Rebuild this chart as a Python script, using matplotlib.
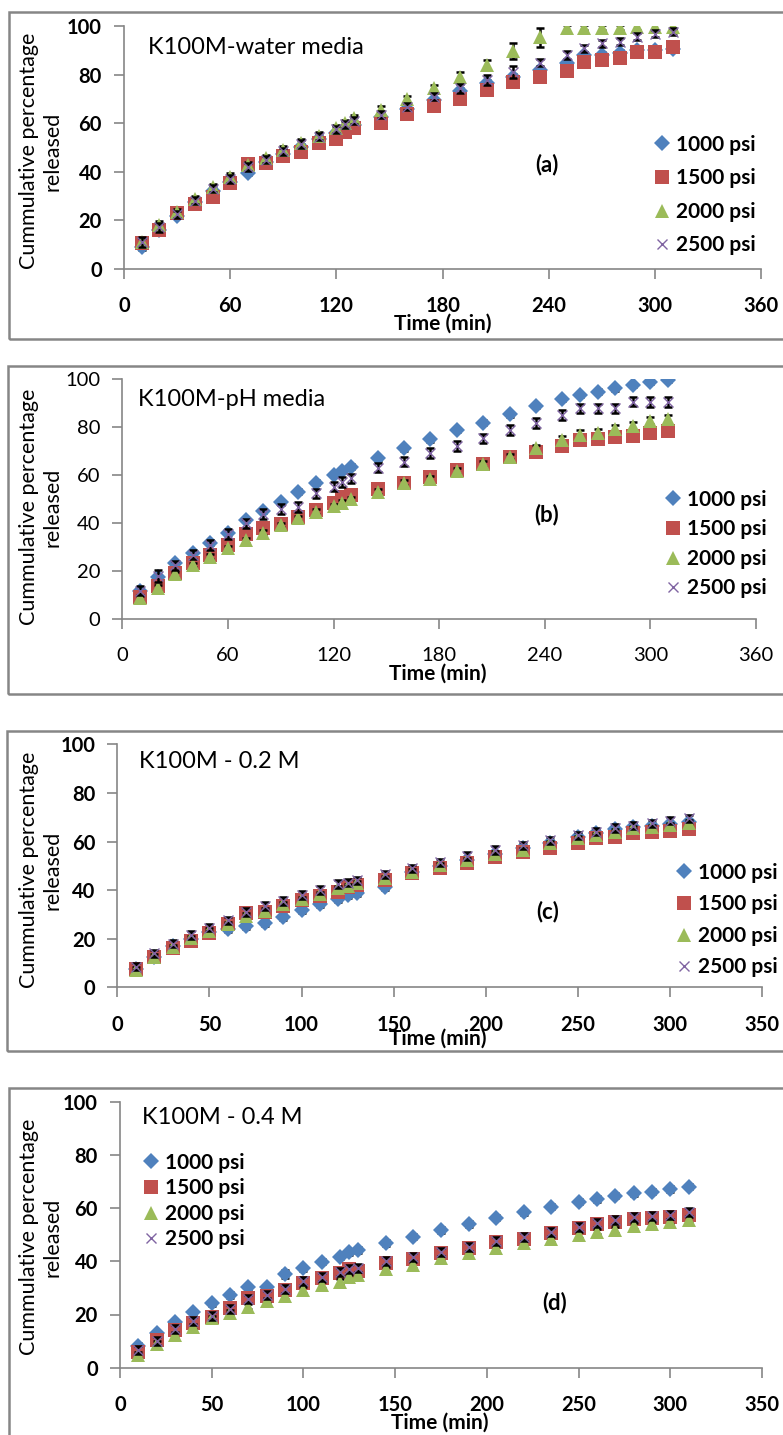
import matplotlib
matplotlib.use('Agg')
import matplotlib.pyplot as plt
from matplotlib.lines import Line2D
from matplotlib.patches import Rectangle

plt.rcParams['font.family'] = ['Lato', 'DejaVu Sans']

# sampling times (min), same for every panel
t = [10, 20, 30, 40, 50, 60, 70, 80, 90, 100, 110, 120, 125, 130, 145, 160,
     175, 190, 205, 220, 235, 250, 260, 270, 280, 290, 300, 310]

labels = ['1000 psi', '1500 psi', '2000 psi', '2500 psi']

# (a) water media
a_1000 = [8.8, 16.0, 21.9, 27.5, 32.1, 35.6, 39.6, 43.9, 47.3, 50.3, 53.4, 56.1, 57.2, 59.2, 62.5, 65.8,
          69.6, 73.3, 76.7, 79.2, 82.0, 84.7, 88.2, 88.2, 88.9, 90.2, 90.2, 90.6]
a_1500 = [10.5, 16.0, 22.8, 26.6, 29.7, 35.5, 43.2, 43.7, 46.5, 48.3, 51.7, 53.5, 56.5, 57.9, 60.2, 63.7,
          67.1, 70.0, 73.7, 77.1, 79.2, 81.6, 85.4, 86.1, 87.1, 89.5, 89.5, 91.3]
a_2000 = [11.0, 18.0, 23.3, 28.6, 33.6, 38.0, 42.8, 45.5, 49.0, 52.0, 54.7, 57.9, 60.0, 62.0, 65.5, 69.9,
          74.4, 79.2, 84.0, 89.9, 95.5, 99.2, 99.5, 99.5, 99.5, 99.6, 99.6, 99.6]
a_2500 = [11.0, 17.0, 22.5, 28.0, 33.0, 37.0, 42.0, 45.0, 48.5, 51.5, 54.5, 57.5, 59.5, 61.0, 63.5, 66.8,
          71.0, 74.4, 77.8, 81.3, 85.0, 88.2, 90.9, 93.0, 93.7, 95.7, 96.9, 97.8]
a_err_1000 = [1.0, 1.2, 1.0, 1.2, 1.0, 1.3, 1.0, 1.2, 1.0, 1.0, 1.2, 1.0, 1.2, 1.0, 1.2, 1.0,
              1.0, 1.2, 1.0, 1.2, 1.0, 1.5, 1.2, 1.0, 1.2, 1.0, 1.0, 1.2]
a_err_1500 = [1.5, 1.2, 1.5, 1.2, 1.5, 1.3, 1.2, 1.2, 1.2, 1.0, 1.5, 1.2, 1.2, 1.2, 1.5, 1.2,
              1.2, 1.2, 1.2, 1.5, 1.2, 1.2, 2.0, 1.5, 1.5, 1.2, 1.2, 1.2]
a_err_2000 = [1.5, 1.5, 1.2, 1.5, 1.2, 1.5, 1.2, 1.5, 1.5, 1.5, 1.5, 1.5, 1.5, 1.5, 1.5, 1.5,
              1.5, 2.0, 2.0, 3.3, 4.0, 1.5, 1.2, 1.2, 1.2, 1.2, 1.2, 1.2]
a_err_2500 = [2.0, 2.0, 1.5, 1.5, 1.5, 1.5, 1.5, 1.5, 1.5, 1.5, 1.5, 1.5, 1.5, 1.5, 1.5, 1.5,
              1.5, 2.0, 2.0, 2.5, 1.5, 1.5, 1.5, 1.5, 1.5, 1.5, 1.5, 1.5]

# (b) pH media
b_1000 = [11.9, 17.5, 23.3, 27.5, 31.9, 36.1, 41.4, 45.1, 48.7, 53.2, 56.9, 60.1, 61.9, 63.6, 67.1, 71.2,
          75.0, 78.9, 81.9, 85.4, 88.9, 91.8, 93.5, 94.8, 96.2, 97.6, 99.0, 99.7]
b_1500 = [9.2, 14.0, 19.2, 23.3, 26.8, 31.0, 35.5, 37.9, 39.6, 42.5, 45.5, 48.3, 51.1, 51.8, 54.2, 56.7,
          59.2, 62.2, 64.7, 67.5, 69.8, 72.2, 74.7, 75.1, 76.1, 76.4, 77.8, 78.6]
b_2000 = [8.7, 12.9, 18.7, 22.6, 26.1, 29.6, 33.0, 36.1, 39.3, 42.1, 44.8, 47.2, 48.6, 50.0, 53.2, 56.9,
          58.3, 61.9, 64.7, 67.8, 71.2, 74.7, 76.8, 77.5, 79.2, 80.5, 82.8, 83.5]
b_2500 = [12.0, 18.0, 22.5, 27.0, 31.0, 35.5, 40.0, 44.0, 46.0, 46.9, 52.5, 55.3, 57.3, 58.7, 63.2, 65.7,
          69.2, 72.2, 75.4, 78.9, 81.9, 85.1, 87.9, 87.9, 87.9, 90.7, 90.6, 90.6]
b_err_1000 = [1.0, 1.0, 1.0, 1.0, 1.0, 1.0, 1.0, 1.0, 1.0, 1.0, 1.0, 1.0, 1.0, 1.0, 1.0, 1.0,
              1.0, 1.0, 1.0, 1.0, 1.0, 1.0, 1.0, 1.0, 1.0, 1.0, 1.0, 1.0]
b_err_1500 = [1.2, 1.5, 1.2, 1.2, 1.2, 1.2, 1.2, 1.0, 1.0, 1.0, 1.0, 1.2, 1.0, 1.0, 1.0, 1.0,
              1.2, 1.0, 1.0, 1.0, 1.0, 1.2, 1.5, 1.5, 1.5, 1.2, 1.2, 1.2]
b_err_2000 = [1.2, 1.2, 1.2, 1.0, 1.0, 1.0, 1.0, 1.0, 1.0, 1.0, 1.0, 1.0, 1.0, 1.0, 1.0, 1.0,
              1.5, 1.2, 1.2, 1.2, 1.5, 1.5, 2.0, 1.8, 1.8, 1.8, 1.5, 1.8]
b_err_2500 = [2.0, 2.5, 2.0, 2.0, 2.0, 2.0, 2.0, 2.0, 2.0, 2.0, 2.0, 2.0, 2.0, 2.0, 2.0, 2.0,
              2.0, 2.0, 2.0, 2.0, 2.0, 2.0, 2.0, 2.0, 2.0, 2.0, 2.0, 2.0]

# (c) 0.2 M
c_1000 = [7.4, 12.6, 17.0, 19.8, 22.9, 23.9, 25.2, 26.6, 29.1, 31.8, 34.3, 36.3, 38.0, 38.9, 41.4, 47.5,
          50.0, 52.5, 55.0, 57.5, 59.5, 62.0, 63.5, 65.0, 66.0, 66.5, 67.0, 68.0]
c_1500 = [7.4, 12.6, 16.0, 19.2, 22.2, 26.0, 30.4, 31.1, 33.5, 35.9, 37.6, 39.3, 41.4, 42.1, 44.2, 46.9,
          49.0, 51.0, 53.5, 55.8, 57.2, 59.3, 61.3, 62.0, 63.4, 64.1, 64.3, 65.0]
c_2000 = [7.3, 12.5, 16.5, 20.2, 23.3, 26.0, 29.5, 31.5, 34.3, 36.2, 38.3, 40.7, 41.7, 42.8, 44.9, 47.6,
          50.3, 52.4, 54.9, 56.5, 59.3, 61.3, 62.7, 64.1, 65.4, 65.8, 66.8, 67.7]
c_2500 = [8.5, 14.0, 18.0, 21.5, 24.5, 27.5, 31.0, 33.5, 35.5, 38.0, 40.0, 42.5, 43.0, 44.0, 46.5, 49.0,
          51.5, 54.0, 56.5, 58.5, 60.5, 62.5, 64.0, 65.5, 66.5, 67.5, 68.5, 69.5]
c_err_1000 = [1.0, 1.0, 1.2, 1.0, 1.0, 1.2, 1.2, 1.2, 1.2, 1.2, 1.2, 1.2, 1.2, 1.2, 1.2, 1.0,
              1.0, 1.0, 1.0, 1.0, 1.0, 1.0, 1.0, 1.0, 1.0, 1.0, 1.0, 1.0]
c_err_1500 = [1.2, 1.2, 1.5, 1.2, 1.2, 1.5, 1.5, 1.5, 1.5, 1.5, 1.5, 1.5, 1.5, 1.5, 1.5, 1.5,
              1.5, 1.5, 1.5, 1.2, 1.2, 1.2, 1.2, 1.5, 1.5, 1.5, 1.5, 1.5]
c_err_2000 = [1.0, 1.0, 1.0, 1.0, 1.0, 1.0, 1.0, 1.0, 1.0, 1.0, 1.0, 1.0, 1.0, 1.0, 1.0, 1.0,
              1.0, 1.0, 1.0, 1.0, 1.0, 1.0, 1.0, 1.0, 1.0, 1.0, 1.0, 1.0]
c_err_2500 = [1.5, 1.5, 1.5, 1.5, 1.5, 1.5, 1.5, 1.5, 1.5, 1.5, 1.5, 1.5, 1.5, 1.5, 1.5, 1.5,
              1.5, 1.5, 1.5, 1.5, 1.5, 1.5, 1.5, 1.5, 1.5, 1.5, 1.5, 1.5]

# (d) 0.4 M
d_1000 = [8.2, 12.9, 17.1, 20.8, 24.2, 27.3, 30.2, 30.2, 35.2, 37.4, 39.8, 41.7, 43.4, 44.2, 46.8, 49.2,
          51.8, 54.0, 56.4, 58.4, 60.5, 62.4, 63.4, 64.7, 65.5, 66.2, 67.2, 68.0]
d_1500 = [6.0, 10.4, 14.2, 16.9, 19.2, 22.3, 26.1, 26.9, 29.2, 32.0, 33.6, 35.5, 37.1, 36.4, 39.2, 40.8,
          43.2, 44.9, 47.1, 48.3, 50.5, 52.4, 54.0, 54.6, 55.8, 56.4, 56.8, 57.4]
d_2000 = [4.8, 8.9, 12.3, 15.4, 18.6, 20.7, 22.9, 25.2, 27.0, 29.2, 31.1, 32.3, 34.0, 34.8, 37.0, 38.6,
          41.1, 43.0, 44.9, 46.8, 48.3, 49.9, 51.1, 51.8, 53.3, 53.9, 54.9, 55.5]
d_2500 = [6.5, 10.0, 14.5, 17.5, 19.5, 22.0, 26.0, 27.5, 29.5, 32.5, 34.0, 36.0, 37.0, 37.5, 40.0, 41.5,
          43.5, 45.5, 47.5, 49.0, 51.0, 53.0, 54.5, 55.5, 56.5, 57.0, 57.5, 58.5]
d_err_1000 = [1.0, 1.0, 1.0, 1.0, 1.0, 1.0, 1.0, 1.0, 1.5, 1.0, 1.0, 1.0, 1.0, 1.0, 1.2, 1.0,
              1.0, 1.0, 1.0, 1.0, 1.0, 1.0, 1.0, 1.0, 1.0, 1.0, 1.0, 1.0]
d_err_1500 = [1.2, 1.2, 1.2, 1.2, 1.2, 1.2, 1.2, 1.2, 1.5, 1.5, 1.5, 1.5, 1.5, 1.5, 1.5, 1.5,
              1.5, 1.5, 1.5, 1.5, 1.5, 1.5, 1.5, 1.5, 1.5, 1.5, 1.5, 1.5]
d_err_2000 = [1.0, 1.0, 1.0, 1.0, 1.0, 1.0, 1.0, 1.0, 1.0, 1.0, 1.0, 1.0, 1.0, 1.0, 1.0, 1.0,
              1.0, 1.0, 1.0, 1.0, 1.0, 1.0, 1.0, 1.0, 1.0, 1.0, 1.0, 1.0]
d_err_2500 = [1.5, 1.5, 1.5, 1.5, 1.5, 1.5, 1.5, 1.5, 1.5, 1.5, 1.5, 1.5, 1.5, 1.5, 1.5, 1.5,
              1.5, 1.5, 1.5, 1.5, 1.5, 1.5, 1.5, 1.5, 1.5, 1.5, 1.5, 1.5]

colors = ['#4F81BD', '#C0504D', '#9BBB59', '#8064A2']
markers = ['D', 's', '^', 'x']
msizes = [8, 9.5, 9.5, 7.5]

W, H = 783, 1435
fig = plt.figure(figsize=(W / 100, H / 100), dpi=100)
grey = '#868686'


def fx(px):
    return px / W


def fy(py):
    return 1 - py / H


def panel(box, axpos, ys, errs, xmax, xstep, title, title_xy, tag, tag_xy,
          leg_xy, leg_gap, ylab_y, xlab_xy, tickbold=True):
    # grey frame around the chart area
    fig.patches.append(Rectangle((fx(box[0]), fy(box[3])), fx(box[2] - box[0]), (box[3] - box[1]) / H,
                                 transform=fig.transFigure, fill=False, ec=grey, lw=1.8))
    x0, x1, ytop, ybot = axpos
    ax = fig.add_axes([fx(x0), fy(ybot), fx(x1 - x0), (ybot - ytop) / H])
    for i in range(4):
        ax.errorbar(t, ys[i], yerr=errs[i], fmt='none', ecolor='black', elinewidth=1.8,
                    capsize=3.2, capthick=1.8, zorder=2 + i)
        ax.plot(t, ys[i], ls='none', marker=markers[i], ms=msizes[i], color=colors[i],
                mew=1.0 if markers[i] == 'x' else 0, zorder=2.5 + i)
    ax.set_xlim(0, xmax)
    ax.set_ylim(0, 100)
    ax.set_xticks(range(0, xmax + 1, xstep))
    ax.set_yticks(range(0, 101, 20))
    for s in ['top', 'right']:
        ax.spines[s].set_visible(False)
    for s in ['left', 'bottom']:
        ax.spines[s].set_color(grey)
        ax.spines[s].set_linewidth(1.2)
    ax.tick_params(axis='both', colors=grey, width=1.2, length=7, labelcolor='black', labelsize=14.5)
    ax.tick_params(axis='x', pad=13)
    ax.tick_params(axis='y', pad=9)
    for lab in ax.get_xticklabels() + ax.get_yticklabels():
        lab.set_fontweight('bold' if tickbold else 'normal')
    ax.patch.set_alpha(0)

    fig.text(fx(title_xy[0]), fy(title_xy[1]), title, fontsize=17, ha='left', va='center')
    fig.text(fx(tag_xy[0]), fy(tag_xy[1]), tag, fontsize=16, fontweight='bold', ha='center', va='center')
    fig.text(fx(41), fy(ylab_y), 'Cummulative percentage\nreleased', rotation=90, fontsize=15.5,
             ha='center', va='center', multialignment='center', linespacing=1.25)
    fig.text(fx(xlab_xy[0]), fy(xlab_xy[1]), 'Time (min)', fontsize=15, fontweight='bold',
             ha='center', va='center')

    handles = [Line2D([], [], ls='none', marker=markers[i], ms=msizes[i], color=colors[i],
                      mew=1.0 if markers[i] == 'x' else 0) for i in range(4)]
    fs = 15
    fpx = fs * 100 / 72
    hl = 0.7
    ax.legend(handles, labels, loc='center left', frameon=False,
              prop={'weight': 'bold', 'size': fs},
              bbox_to_anchor=(fx(leg_xy[0] - hl * fpx / 2), fy(leg_xy[1])), bbox_transform=fig.transFigure,
              borderpad=0, borderaxespad=0, handlelength=hl, handletextpad=0.3,
              labelspacing=(leg_gap - 1.17 * fpx) / fpx)
    return ax


panel((9, 12, 800, 339), (124, 761.3, 26.3, 268.7), [a_1000, a_1500, a_2000, a_2500],
      [a_err_1000, a_err_1500, a_err_2000, a_err_2500], 360, 60,
      'K100M-water media', (148, 47), '(a)', (547, 165), (662, 195), 38, 151, (443, 324))
panel((8, 366, 800, 694), (122.3, 756, 379.3, 619.3), [b_1000, b_1500, b_2000, b_2500],
      [b_err_1000, b_err_1500, b_err_2000, b_err_2500], 360, 60,
      'K100M-pH media', (138, 400), '(b)', (547, 515), (673, 544), 34, 507, (438, 674), tickbold=False)
panel((7, 731, 800, 1051), (117.3, 762.3, 744.3, 987.3), [c_1000, c_1500, c_2000, c_2500],
      [c_err_1000, c_err_1500, c_err_2000, c_err_2500], 350, 50,
      'K100M - 0.2 M', (139, 762), '(c)', (548, 912), (684, 920), 36, 870, (438, 1039))
panel((9, 1088, 800, 1460), (120, 762, 1101.7, 1367.7), [d_1000, d_1500, d_2000, d_2500],
      [d_err_1000, d_err_1500, d_err_2000, d_err_2500], 350, 50,
      'K100M - 0.4 M', (142, 1117), '(d)', (555, 1303), (151, 1201), 30, 1237, (440, 1423))

fig.savefig('out.png', dpi=100)
